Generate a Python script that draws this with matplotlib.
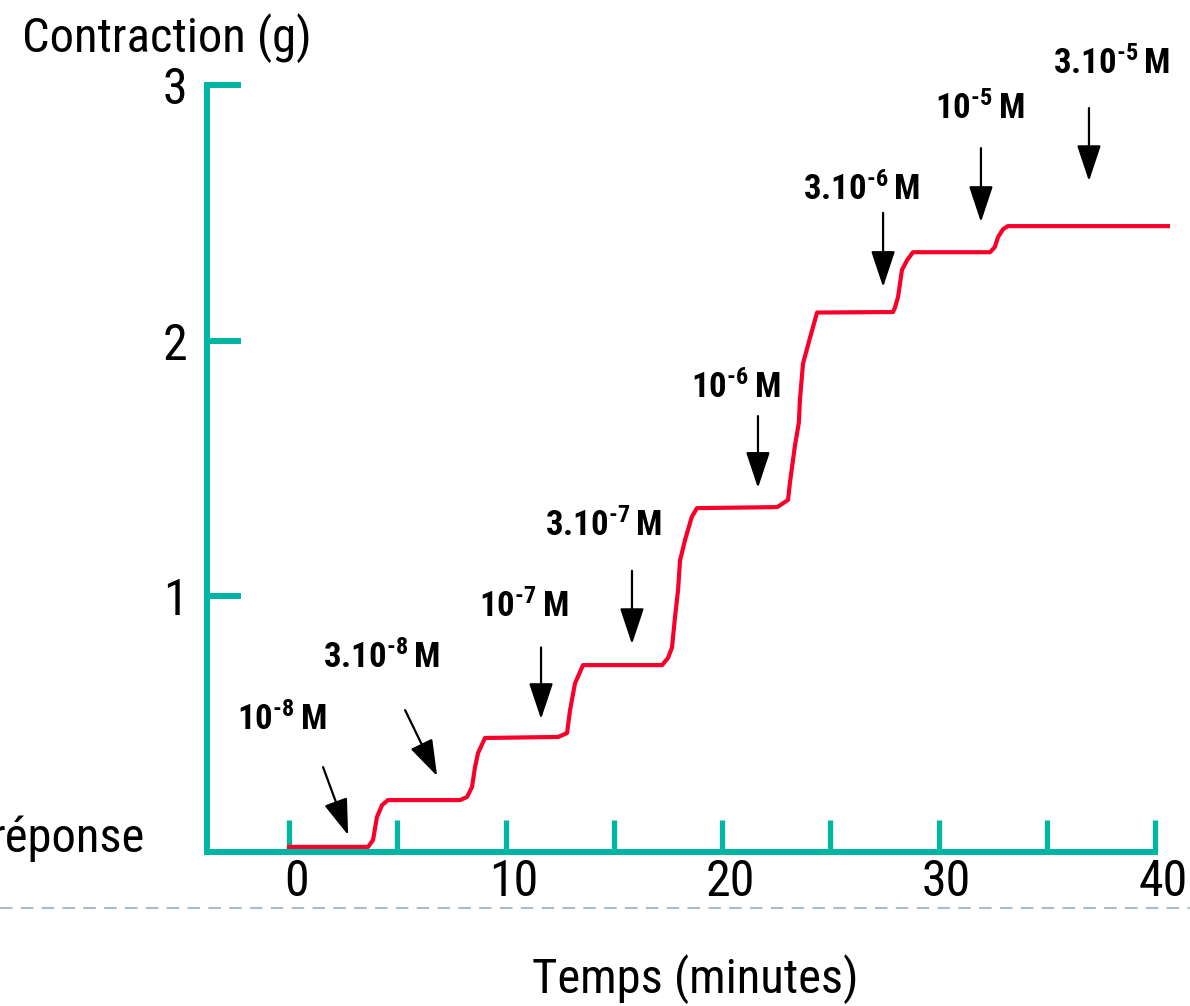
"""
Courbe dose-réponse cumulée : contraction (g) en fonction du temps,
avec ajout successif de concentrations croissantes d'agoniste.
"""

import numpy as np
import matplotlib
matplotlib.use('Agg')
import matplotlib.pyplot as plt
from matplotlib.lines import Line2D
from matplotlib.transforms import ScaledTranslation


# Trace enregistré (minutes, grammes)
time_min = [0, 3.65, 3.88, 4.06, 4.3, 4.57,
            7.9, 8.22, 8.45, 8.59, 8.73, 9.05,
            12.43, 12.84, 12.98, 13.21, 13.58,
            17.23, 17.5, 17.69, 17.83, 17.97, 18.06, 18.29, 18.6, 18.84,
            22.55, 23.05, 23.14, 23.37, 23.55, 23.6, 23.74, 24.06, 24.39,
            27.9, 27.99, 28.13, 28.31, 28.55, 28.82,
            32.38, 32.6, 32.75, 32.98, 33.2, 40.6]
contraction_g = [0.02, 0.02, 0.047, 0.137, 0.184, 0.203,
                 0.203, 0.215, 0.254, 0.332, 0.387, 0.446,
                 0.45, 0.465, 0.555, 0.66, 0.731,
                 0.731, 0.758, 0.80, 0.92, 1.025, 1.14, 1.22, 1.31, 1.345,
                 1.349, 1.377, 1.447, 1.59, 1.68, 1.77, 1.91, 2.01, 2.11,
                 2.112, 2.13, 2.17, 2.276, 2.315, 2.346,
                 2.346, 2.366, 2.405, 2.436, 2.448, 2.448]

# Injections : concentration, pointe et queue de la flèche, position du texte
dose_mantissa = ['', '3.', '', '3.', '', '3.', '', '3.']
dose_exponent = ['8', '8', '7', '7', '6', '6', '5', '5']
arrow_tip_t = [2.73, 6.84, 11.64, 15.84, 21.66, 27.44, 31.96, 36.95]
arrow_tip_g = [0.066, 0.297, 0.52, 0.813, 1.424, 2.21, 2.464, 2.624]
arrow_tail_t = [1.57, 5.36, 11.64, 15.84, 21.66, 27.44, 31.96, 36.95]
arrow_tail_g = [0.332, 0.555, 0.80, 1.10, 1.705, 2.50, 2.753, 2.91]
label_t = [-0.32, 4.30, 10.85, 14.55, 20.65, 26.47, 31.92, 38.01]
label_g = [0.516, 0.759, 0.958, 1.275, 1.815, 2.589, 2.906, 3.082]

x_ticks = [0, 5, 10, 15, 20, 25, 30, 35, 40]
x_tick_labels = ['0', '', '10', '', '20', '', '30', '', '40']
y_ticks = [1, 2, 3]

FONT = 'Roboto Condensed'
TEAL = '#00b5a2'
RED = '#f80029'
HYPHEN = '\u2010'


def draw_chart():
    plt.rcParams['font.family'] = [FONT, 'DejaVu Sans']
    plt.rcParams['mathtext.fontset'] = 'custom'
    plt.rcParams['mathtext.rm'] = FONT
    plt.rcParams['mathtext.bf'] = FONT + ':bold'

    fig = plt.figure(figsize=(11.9, 10.06), dpi=100)
    ax = fig.add_axes([207 / 1190, 154 / 1006, 948 / 1190, 767 / 1006])
    ax.set_xlim(-3.79, 40)
    ax.set_ylim(0, 3)

    # Axes en L couleur sarcelle
    for side in ['top', 'right']:
        ax.spines[side].set_visible(False)
    for side in ['left', 'bottom']:
        ax.spines[side].set_color(TEAL)
        ax.spines[side].set_linewidth(4.3)
        ax.spines[side].set_capstyle('projecting')
    ax.spines['left'].set_bounds(0, 3)

    ax.set_xticks(x_ticks)
    ax.set_xticklabels(x_tick_labels)
    ax.set_yticks(y_ticks)
    ax.set_yticklabels([str(v) for v in y_ticks])
    ax.tick_params(axis='x', direction='in', length=23, width=3.8, color=TEAL,
                   labelsize=36, pad=4)
    ax.tick_params(axis='y', direction='in', length=24.5, width=4.3, color=TEAL,
                   labelsize=36, pad=14)
    shift = ScaledTranslation(8 / 100, 0, fig.dpi_scale_trans)
    for lab in ax.get_xticklabels():
        lab.set_transform(lab.get_transform() + shift)

    # Trace de contraction
    ax.plot(time_min, contraction_g, color=RED, lw=3.0, clip_on=False,
            solid_joinstyle='round', zorder=3)

    # Flèches d'injection et concentrations
    for i in range(len(dose_exponent)):
        ax.annotate('', xy=(arrow_tip_t[i], arrow_tip_g[i]),
                    xytext=(arrow_tail_t[i], arrow_tail_g[i]),
                    arrowprops=dict(arrowstyle='-|>,head_length=0.75,head_width=0.25',
                                    mutation_scale=30, lw=1.6, color='black',
                                    shrinkA=0, shrinkB=0),
                    annotation_clip=False)
        text = '$\\mathbf{%s10^{%s%s}\\,M}$' % (dose_mantissa[i], HYPHEN, dose_exponent[i])
        ax.text(label_t[i], label_g[i], text, ha='center', va='center',
                fontsize=25, color='black', clip_on=False)

    fig.text(22 / 1190, 1 - 52 / 1006, 'Contraction (g)', fontsize=35,
             ha='left', va='baseline')
    fig.text(145 / 1190, 154 / 1006, 'réponse', fontsize=35,
             ha='right', va='baseline')
    fig.text(695 / 1190, 13 / 1006, 'Temps (minutes)', fontsize=35,
             ha='center', va='baseline')

    # Ligne pointillée de séparation
    fig.add_artist(Line2D([0, 1], [98 / 1006, 98 / 1006], transform=fig.transFigure,
                          color='#a9bccf', lw=1.5, dashes=(6, 4)))

    fig.savefig('out.png', dpi=100)


if __name__ == '__main__':
    draw_chart()
